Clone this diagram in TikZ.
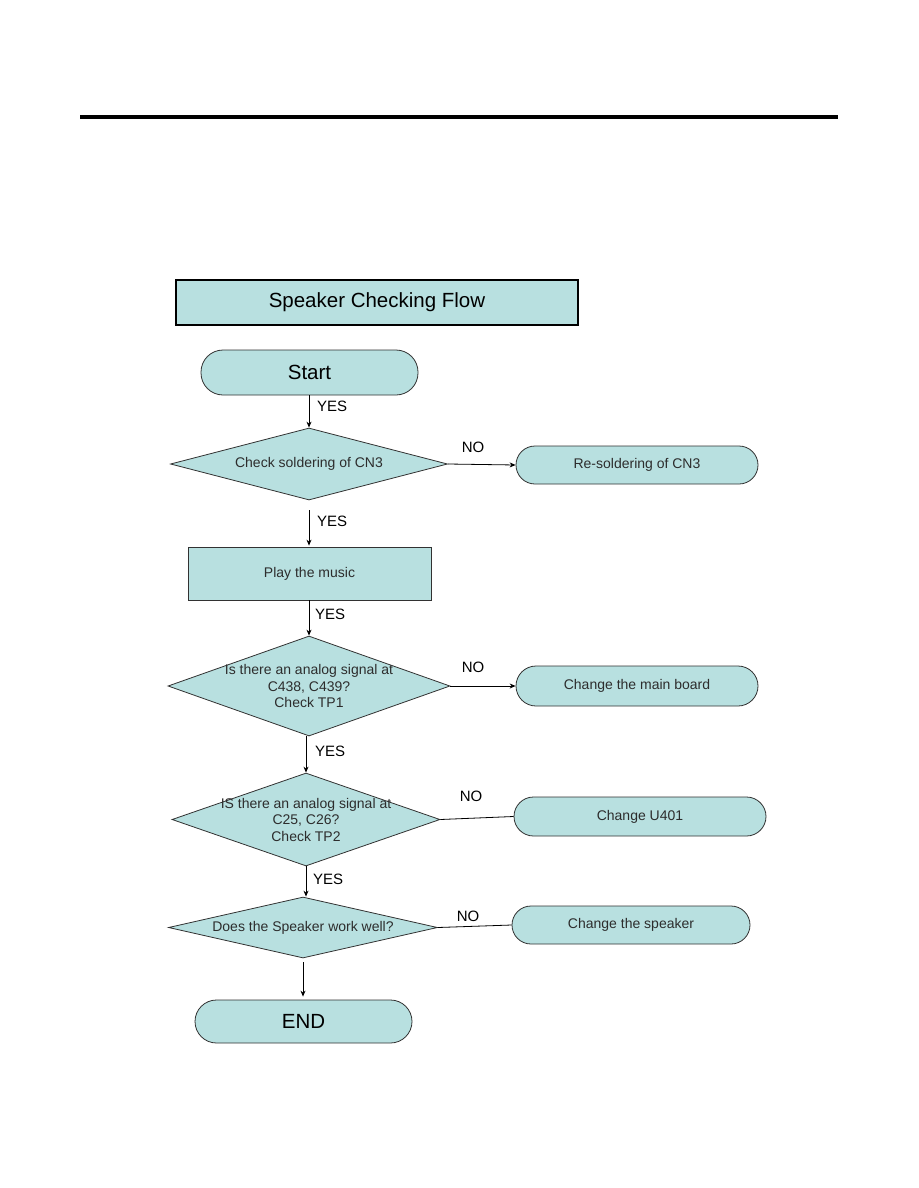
\documentclass[tikz,border=0pt]{standalone}
\usepackage{fontspec}
\setmainfont{Liberation Sans}
\usetikzlibrary{shapes.geometric,arrows.meta}
\definecolor{boxfill}{RGB}{184,224,224}
\definecolor{edgecol}{RGB}{50,50,50}
\definecolor{smalltext}{RGB}{45,45,45}
\tikzset{
  base/.style={draw=edgecol, fill=boxfill, line width=0.8pt, inner sep=0pt},
  stadium/.style={base, rectangle, rounded corners=#1},
  dia/.style={base, diamond, minimum width=#1},
  dtext/.style={text=smalltext, font=\fontsize{14}{16.5}\selectfont, align=center, inner sep=0pt},
  small/.style={text=smalltext, font=\fontsize{14}{16.5}\selectfont},
  big/.style={font=\fontsize{20.5}{24}\selectfont},
  lab/.style={font=\fontsize{15}{18}\selectfont, inner sep=0pt},
  arr/.style={draw=black, line width=0.8pt, -{Stealth[length=6pt,width=5pt]}},
  plain/.style={draw=black, line width=0.8pt},
}
\begin{document}
\begin{tikzpicture}[x=1pt,y=-1pt]
\useasboundingbox[fill=white] (0,0) rectangle (918,1188);
% top rule
\draw[line width=4pt] (80,117) -- (838,117);
% title
\node[base, line width=2.4pt, draw=black, minimum width=402pt, minimum height=45pt, big] (title) at (377,302.5) {Speaker Checking Flow};
% start
\node[stadium=22pt, minimum width=217pt, minimum height=45pt, big] (start) at (309.5,372.5) {Start};
% diamond 1
\node[dia=277pt, minimum height=72pt] (d1) at (309,464) {};
\node[dtext] at (d1) {Check soldering of CN3};
\node[stadium=19pt, minimum width=242pt, minimum height=38pt, small] (r1) at (637,465) {Re-soldering of CN3};
% play
\node[base, rectangle, minimum width=243pt, minimum height=53pt, small] (play) at (309.5,573.5) {Play the music};
% diamond 2
\node[dia=282pt, minimum height=100pt] (d2) at (309,686) {};
\node[dtext] at (d2) {Is there an analog signal at\\C438, C439?\\Check TP1};
\node[stadium=20pt, minimum width=242pt, minimum height=40pt, small] (r2) at (637,686) {Change the main board};
% diamond 3
\node[dia=268pt, minimum height=93pt] (d3) at (306,819.5) {};
\node[dtext] at (d3) {IS there an analog signal at\\C25, C26?\\Check TP2};
\node[stadium=19.5pt, minimum width=252pt, minimum height=39pt, small] (r3) at (640,816.5) {Change U401};
% diamond 4
\node[dia=269pt, minimum height=61pt] (d4) at (303,927.5) {};
\node[dtext] at (d4) {Does the Speaker work well?};
\node[stadium=19pt, minimum width=238pt, minimum height=38pt, small] (r4) at (631,925) {Change the speaker};
% end
\node[stadium=21.5pt, minimum width=217pt, minimum height=43pt, big] (end) at (303.5,1021.5) {END};
% connectors
\draw[arr] (d1.north |- start.south) -- (d1.north);
\node[lab, anchor=west] (y1) at (317,406) {YES};
\draw[arr] (d1.east) -- (r1.west);
\node[lab] (n1) at (473,447) {NO};
\draw[arr, shorten <=10pt, shorten >=1pt] (d1.south) -- (d1.south |- play.north);
\node[lab, anchor=west] (y2) at (317,521) {YES};
\draw[arr] (d2.north |- play.south) -- (d2.north);
\node[lab, anchor=west] (y3) at (315,614) {YES};
\draw[arr] (d2.east) -- (r2.west);
\node[lab] (n2) at (473,667) {NO};
\draw[arr] (d3.north |- d2.south) -- (d3.north);
\node[lab, anchor=west] (y4) at (315,751) {YES};
\draw[plain] (d3.east) -- (r3.west);
\node[lab] (n3) at (471,796) {NO};
\draw[arr] (d3.south) -- (d3.south |- d4.north);
\node[lab, anchor=west] (y5) at (313,879) {YES};
\draw[plain] (d4.east) -- (r4.west);
\node[lab] (n4) at (468,916) {NO};
\draw[arr, shorten <=4pt, shorten >=3pt] (d4.south) -- (d4.south |- end.north);
\end{tikzpicture}
\end{document}
